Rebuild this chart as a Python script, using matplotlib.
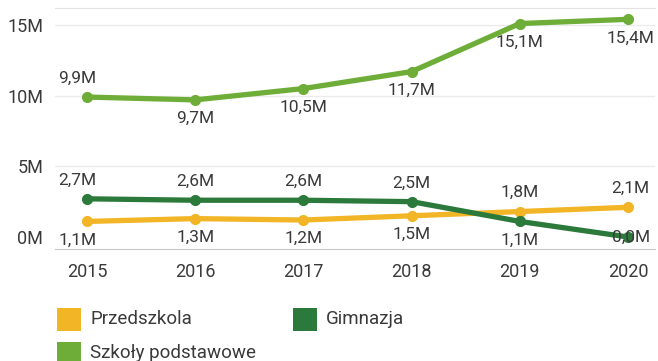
import matplotlib
matplotlib.use("Agg")
import matplotlib.pyplot as plt
from matplotlib.patches import Rectangle

plt.rcParams['font.family'] = ['Roboto', 'DejaVu Sans']

years = [2015, 2016, 2017, 2018, 2019, 2020]
przedszkola = [1.1, 1.3, 1.2, 1.5, 1.8, 2.1]
gimnazja = [2.7, 2.6, 2.6, 2.5, 1.1, 0.0]
szkoly_podstawowe = [9.9, 9.7, 10.5, 11.7, 15.1, 15.4]
y_ticks = [0, 5, 10, 15]
y_tick_labels = ["0M", "5M", "10M", "15M"]

C_YELLOW = "#F2B526"
C_DARK = "#2B7A3B"
C_LIGHT = "#6EAD38"
TXT = "#3A3A3A"

W, H = 658, 361
fig = plt.figure(figsize=(W / 100, H / 100), dpi=100)
ax = fig.add_axes([55 / W, 1 - 249 / H, 600 / W, 241 / H])

# label placement per point: +1 above, -1 below, 0 centred
series = [
    ("Przedszkola", przedszkola, C_YELLOW, [-1, -1, -1, -1, 1, 1]),
    ("Szkoły podstawowe", szkoly_podstawowe, C_LIGHT, [1, -1, -1, -1, -1, -1]),
    ("Gimnazja", gimnazja, C_DARK, [1, 1, 1, 1, -1, 0]),
]
# horizontal nudge (points) keeping edge labels inside the plot area
x_nudge = [-7, 0, 0, 0, 0, 2]

for name, vals, col, place in series:
    ax.plot(years, vals, color=col, lw=3.8, marker="o", ms=7,
            solid_capstyle="round", zorder=3)
    for x, v, p, dx in zip(years, vals, place, x_nudge):
        txt = f"{v:.1f}M".replace(".", ",")
        dy = 13.5 * p
        ax.annotate(txt, (x, v), xytext=(dx, dy), textcoords="offset points",
                    ha="center", va="center", fontsize=12.5, color=TXT, zorder=4)

ax.set_xlim(2015 - 0.296, 2020 + 0.25)
ax.set_ylim(-0.85, 16.2)
ax.set_yticks(y_ticks)
ax.set_yticklabels(y_tick_labels)
ax.set_xticks(years)
ax.set_xticklabels([str(y) for y in years])
ax.tick_params(length=0, labelsize=13, colors=TXT)
ax.tick_params(axis="y", pad=8.6)
ax.tick_params(axis="x", pad=10)

for yv in [5, 10, 15]:
    ax.axhline(yv, color="#EBEBEB", lw=1, zorder=1)
for s in ["left", "right"]:
    ax.spines[s].set_visible(False)
ax.spines["top"].set_color("#E3E3E3")
ax.spines["bottom"].set_color("#C8C8C8")

# legend
legend_items = [
    ("Przedszkola", C_YELLOW, 57, 308),
    ("Gimnazja", C_DARK, 293, 308),
    ("Szkoły podstawowe", C_LIGHT, 57, 342),
]
for label, col, px, py in legend_items:
    fig.add_artist(Rectangle((px / W, 1 - (py + 23) / H), 24 / W, 23 / H,
                             transform=fig.transFigure, color=col, lw=0))
    fig.text((px + 33) / W, 1 - (py + 11.5) / H, label, fontsize=13.5,
             color=TXT, va="center", ha="left")

fig.savefig("out.png", dpi=100)
